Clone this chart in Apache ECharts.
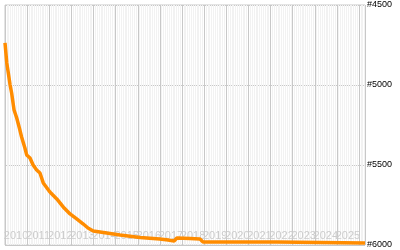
<!DOCTYPE html>
<html><head><meta charset="utf-8">
<script src="https://cdn.jsdelivr.net/npm/echarts@6/dist/echarts.min.js"></script>
<style>html,body{margin:0;padding:0;background:#fff}#c{width:400px;height:250px}</style>
</head><body><div id="c"></div>
<script>
var dates = [2010.0,2010.08,2010.15,2010.23,2010.30,2010.41,2010.53,2010.65,2010.75,2010.90,2010.98,2011.13,2011.27,2011.43,2011.58,2011.73,2012.03,2012.34,2012.63,2012.94,2013.24,2013.54,2013.75,2013.99,2014.6,2015.2,2016.1,2017.0,2017.37,2017.46,2017.64,2017.77,2018.36,2018.81,2018.95,2022.29,2022.38,2026.27];
var ranks = [4737,4862,4925,5000,5050,5156,5206,5269,5325,5394,5437,5456,5500,5531,5550,5612,5669,5712,5762,5806,5837,5869,5894,5912,5925,5937,5953,5962,5969,5975,5975,5956,5959,5962,5981,5981,5987,5987];
var yearLabels = ['2010','2011','2012','2013','2014','2015','2016','2017','2018','2019','2020','2021','2022','2023','2024','2025'];
var yTicks = [4500,5000,5500,6000];

var chart = echarts.init(document.getElementById('c'), null, {renderer:'canvas'});
chart.setOption({
  animation:false,
  grid:[
    {left:5,right:35,top:5,bottom:5,show:true,borderColor:'#c8c8c8',borderWidth:1,backgroundColor:'#ffffff'},
    {left:5,right:41,top:5,bottom:5,show:false}
  ],
  xAxis:[{
    type:'value',min:2010,max:2026.27,interval:1,gridIndex:0,
    axisLine:{show:false},axisTick:{show:false},
    splitLine:{show:true,lineStyle:{color:'#c8c8c8',width:1}},
    minorTick:{show:false,splitNumber:12},
    minorSplitLine:{show:true,lineStyle:{color:'#f2f2f2',width:1}},
    axisLabel:{show:false}
  },{
    type:'category',gridIndex:1,data:yearLabels,boundaryGap:true,
    axisLine:{show:false},axisTick:{show:false},splitLine:{show:false},
    axisLabel:{inside:true,margin:4,interval:0,color:'#cccccc',fontSize:11,fontFamily:'Liberation Sans'}
  }],
  yAxis:[{
    type:'value',position:'right',inverse:true,min:4500,max:6000,interval:500,gridIndex:0,
    axisLine:{show:false},axisTick:{show:false},
    splitLine:{show:true,lineStyle:{color:'#c8c8c8',width:1}},
    axisLabel:{margin:2,color:'#000',fontSize:9,fontFamily:'Liberation Sans',
      formatter:function(v){return '#'+v;}}
  },{
    type:'value',gridIndex:1,show:false,min:0,max:1
  }],
  series:[{
    type:'line',showSymbol:false,xAxisIndex:0,yAxisIndex:0,
    data:dates.map(function(d,i){return [d,ranks[i]];}),
    lineStyle:{color:'#ff8c00',width:3.5},
    itemStyle:{color:'#ff8c00'}
  }]
});
</script></body></html>
